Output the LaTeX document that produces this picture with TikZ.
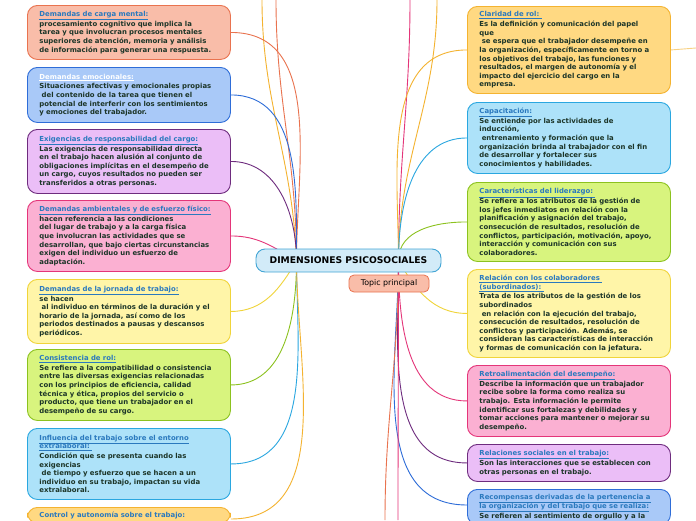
\documentclass[tikz,border=0pt]{standalone}
\usepackage{fontspec}
\setmainfont{DejaVu Sans}
\usetikzlibrary{backgrounds,calc}

\definecolor{salmonFill}{HTML}{F9BDA9}\definecolor{salmonLine}{HTML}{E9734F}
\definecolor{blueFill}{HTML}{A9C9F8}\definecolor{blueLine}{HTML}{2E6DD8}
\definecolor{lilacFill}{HTML}{EBBEF7}\definecolor{lilacLine}{HTML}{6E2C7E}
\definecolor{pinkFill}{HTML}{FBB0D2}\definecolor{pinkLine}{HTML}{E43579}
\definecolor{yellowFill}{HTML}{FFF5A8}\definecolor{yellowLine}{HTML}{F0D43A}
\definecolor{greenFill}{HTML}{D8F47E}\definecolor{greenLine}{HTML}{8CC21F}
\definecolor{cyanFill}{HTML}{ADE2F9}\definecolor{cyanLine}{HTML}{2AA7E0}
\definecolor{orangeFill}{HTML}{FFD982}\definecolor{orangeLine}{HTML}{F4B330}
\definecolor{centerFill}{HTML}{D2EBF8}\definecolor{centerLine}{HTML}{42A5D5}
\definecolor{titleblue}{HTML}{2A79BE}
\definecolor{bodytext}{HTML}{1C3528}

\newcommand{\ttl}[1]{\textcolor{titleblue}{\raisebox{0pt}[\height][0pt]{\underline{#1}}}}

\begin{document}
\begin{tikzpicture}[x=1pt,y=-1pt,
  leaf/.style={draw,rounded corners=10pt,line width=0.9pt,text width=179pt,inner xsep=12pt,inner ysep=5pt,
    align=left,anchor=north west,text=bodytext,font=\fontsize{6.9}{8.6}\selectfont\bfseries},
  salmon/.style={leaf,fill=salmonFill,draw=salmonLine},
  bluish/.style={leaf,fill=blueFill,draw=blueLine},
  lilac/.style={leaf,fill=lilacFill,draw=lilacLine},
  pinkish/.style={leaf,fill=pinkFill,draw=pinkLine},
  yellowish/.style={leaf,fill=yellowFill,draw=yellowLine},
  greenish/.style={leaf,fill=greenFill,draw=greenLine},
  cyanish/.style={leaf,fill=cyanFill,draw=cyanLine},
  orangish/.style={leaf,fill=orangeFill,draw=orangeLine},
  link/.style={line width=0.9pt}]
  \clip (0,0) rectangle (696,520);

  % left column
  \node[salmon,minimum height=54pt] (cargamental) at (27,5) {\ttl{Demandas de carga mental:}\\[1.2pt]
    procesamiento cognitivo que implica la\\
    tarea y que involucran procesos mentales\\
    superiores de atención, memoria y análisis\\
    de información para generar una respuesta.};
  \node[bluish,minimum height=55pt] (emocionales) at (27,67) {\textcolor{white}{\raisebox{0pt}[\height][0pt]{\underline{Demandas emocionales:}}}\\[1.2pt]
    Situaciones afectivas y emocionales propias\\
    ~del contenido de la tarea que tienen el\\
    potencial de interferir con los sentimientos\\
    y emociones del trabajador.};
  \node[lilac,minimum height=64pt] (responsabilidad) at (27,129) {\ttl{Exigencias de responsabilidad del cargo:}\\[1.2pt]
    Las exigencias de responsabilidad directa\\
    en el trabajo hacen alusión al conjunto de\\
    obligaciones implícitas en el desempeño de\\
    un cargo, cuyos resultados no pueden ser\\
    transferidos a otras personas.};
  \node[pinkish,minimum height=71pt] (ambientales) at (27,200) {\ttl{Demandas ambientales y de esfuerzo físico:}\\[1.2pt]
    hacen referencia a las condiciones\\
    del lugar de trabajo y a la carga física\\
    que involucran las actividades que se\\
    desarrollan, que bajo ciertas circunstancias\\
    exigen del individuo un esfuerzo de\\
    adaptación.};
  \node[yellowish,minimum height=64pt] (jornada) at (27,279) {\ttl{Demandas de la jornada de trabajo:}\\[1.2pt]
    se hacen\\
    ~al individuo en términos de la duración y el\\
    horario de la jornada, así como de los\\
    periodos destinados a pausas y descansos\\
    periódicos.};
  \node[greenish,minimum height=71pt] (consistencia) at (27,349) {\ttl{Consistencia de rol:}\\[1.2pt]
    Se refiere a la compatibilidad o consistencia\\
    entre las diversas exigencias relacionadas\\
    con los principios de eficiencia, calidad\\
    técnica y ética, propios del servicio o\\
    producto, que tiene un trabajador en el\\
    desempeño de su cargo.};
  \node[cyanish,minimum height=71pt] (influencia) at (27,428) {\ttl{Influencia del trabajo sobre el entorno}\\
    \ttl{extralaboral:~}\\[1.2pt]
    Condición que se presenta cuando las\\
    exigencias\\
    ~de tiempo y esfuerzo que se hacen a un\\
    individuo en su trabajo, impactan su vida\\
    extralaboral.};
  \node[orangish] (control) at (27,507) {\ttl{Control y autonomía sobre el trabajo:}\\[30pt]};

  % right column
  \node[orangish,minimum height=87pt] (claridad) at (467,6) {\ttl{Claridad de rol:~}\\[1.2pt]
    Es la definición y comunicación del papel\\
    que\\
    ~se espera que el trabajador desempeñe en\\
    la organización, específicamente en torno a\\
    los objetivos del trabajo, las funciones y\\
    resultados, el margen de autonomía y el\\
    impacto del ejercicio del cargo en la\\
    empresa.};
  \node[cyanish,minimum height=71pt] (capacitacion) at (467,102) {\ttl{Capacitación:}\\[1.2pt]
    Se entiende por las actividades de\\
    inducción,\\
    ~entrenamiento y formación que la\\
    organización brinda al trabajador con el fin\\
    de desarrollar y fortalecer sus\\
    conocimientos y habilidades.};
  \node[greenish,minimum height=79pt] (liderazgo) at (467,182) {\ttl{Características del liderazgo:~}\\[1.2pt]
    Se refiere a los atributos de la gestión de\\
    los jefes inmediatos en relación con la\\
    planificación y asignación del trabajo,\\
    consecución de resultados, resolución de\\
    conflictos, participación, motivación, apoyo,\\
    interacción y comunicación con sus\\
    colaboradores.};
  \node[yellowish,minimum height=88pt] (colaboradores) at (467,269) {\ttl{Relación con los colaboradores~}\\
    \ttl{(subordinados):~}\\[1.2pt]
    Trata de los atributos de la gestión de los\\
    subordinados\\
    ~en relación con la ejecución del trabajo,\\
    consecución de resultados, resolución de\\
    conflictos y participación. Además, se\\
    consideran las características de interacción\\
    y formas de comunicación con la jefatura.};
  \node[pinkish,minimum height=71pt] (retro) at (467,365) {\ttl{Retroalimentación del desempeño:}\\[1.2pt]
    Describe la información que un trabajador\\
    recibe sobre la forma como realiza su\\
    trabajo. Esta información le permite\\
    identificar sus fortalezas y debilidades y\\
    tomar acciones para mantener o mejorar su\\
    desempeño.};
  \node[lilac,minimum height=37pt] (sociales) at (467,444) {\ttl{Relaciones sociales en el trabajo:}\\[1.2pt]
    Son las interacciones que se establecen con\\
    otras personas en el trabajo.};
  \node[bluish] (recompensas) at (467,489) {\ttl{Recompensas derivadas de la pertenencia a}\\
    \ttl{la organización y del trabajo que se realiza:}\\[1.2pt]
    Se refieren al sentimiento de orgullo y a la\\[12pt]};

  % centre
  \node[draw=centerLine,fill=centerFill,line width=0.9pt,rounded corners=9pt,minimum width=185pt,minimum height=23pt,
    font=\fontsize{9.2}{10}\selectfont\bfseries,text=black] (dimensiones) at (348.5,260.5) {DIMENSIONES PSICOSOCIALES};
  \node[draw=salmonLine,fill=salmonFill,line width=0.8pt,rounded corners=5pt,minimum width=80pt,minimum height=17pt,
    font=\fontsize{7.9}{9}\selectfont,text=black] (topico) at (389,283.5) {Topic principal};

  \coordinate (offA) at (262,0);
  \coordinate (offB) at (276,0);
  \coordinate (offC) at (410,0);
  \coordinate (offD) at (437,0);
  \coordinate (offE) at (385,520);
  \coordinate (offF) at (398,520);
  \coordinate (offG) at (696,48);

  \begin{scope}[on background layer]
    \fill[white] (0,0) rectangle (696,520);
    \coordinate (hubL) at ([xshift=-52pt]dimensiones.center);
    \coordinate (hubR) at ([xshift=50pt]dimensiones.center);
    \draw[link,orangeLine] (hubL) to[out=92,in=-90] (offA);
    \draw[link,salmonLine] (hubL) to[out=90,in=-90] (offB);
    \draw[link,salmonLine] (hubL) to[out=90,in=0] (cargamental.east);
    \draw[link,blueLine] (hubL) to[out=90,in=0] (emocionales.east);
    \draw[link,lilacLine] (hubL) to[out=90,in=0] (responsabilidad.east);
    \draw[link,pinkLine] (hubL) to[out=150,in=0] (ambientales.east);
    \draw[link,yellowLine] (hubL) to[out=-120,in=0] (jornada.east);
    \draw[link,greenLine] (hubL) to[out=-90,in=0] (consistencia.east);
    \draw[link,cyanLine] (hubL) to[out=-90,in=0] (influencia.east);
    \draw[link,orangeLine] (hubL) to[out=-90,in=0] ($(control.north east)+(0,12)$);
    \draw[link,pinkLine] (hubR) to[out=90,in=-90] (offC);
    \draw[link,orangeLine] (hubR) to[out=90,in=-90] (offD);
    \draw[link,orangeLine] (hubR) to[out=90,in=180] (claridad.west);
    \draw[link,cyanLine] (hubR) to[out=90,in=180] (capacitacion.west);
    \draw[link,greenLine] (hubR) to[out=90,in=180] (liderazgo.west);
    \draw[link,yellowLine] (hubR) to[out=-60,in=180] (colaboradores.west);
    \draw[link,pinkLine] (hubR) to[out=-90,in=180] (retro.west);
    \draw[link,lilacLine] (hubR) to[out=-90,in=180] (sociales.west);
    \draw[link,blueLine] (hubR) to[out=-90,in=180] ($(recompensas.north west)+(0,16)$);
    \draw[link,salmonLine] (hubR) to[out=-90,in=90] (offE);
    \draw[link,pinkLine] (hubR) to[out=-90,in=90] (offF);
    \draw[link,orangeLine!60] (claridad.east) -- (offG);
  \end{scope}
\end{tikzpicture}
\end{document}
